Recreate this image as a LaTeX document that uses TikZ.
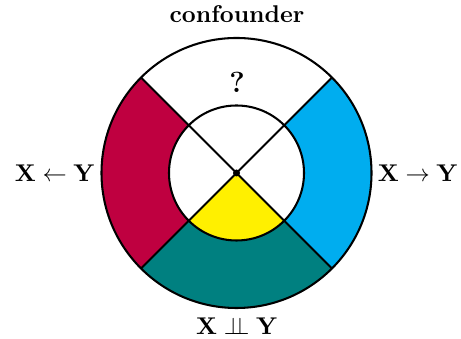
\documentclass[tikz,border=0pt]{standalone}
\usepackage{amsmath}
\definecolor{cpurple}{HTML}{BF0040}
\definecolor{ccyan}{HTML}{00ADEF}
\definecolor{cteal}{HTML}{008080}
\definecolor{cyellow}{HTML}{FFF000}
\begin{document}
\begin{tikzpicture}[x=0.413pt,y=0.413pt,
  ring/.style={line width=0.85pt},
  lbl/.style={inner sep=0pt,font=\bfseries}]
\useasboundingbox (0,0) rectangle (461,339);
\def\ro{135}
\def\ri{67.5}
\coordinate (c) at (236.5,166);
% sectors
\begin{scope}[shift={(c)}]
\fill[white] (45:\ro) arc (45:135:\ro) -- (135:\ri) arc (135:45:\ri) -- cycle;
\fill[cpurple] (135:\ro) arc (135:225:\ro) -- (225:\ri) arc (225:135:\ri) -- cycle;
\fill[cteal] (225:\ro) arc (225:315:\ro) -- (315:\ri) arc (315:225:\ri) -- cycle;
\fill[ccyan] (-45:\ro) arc (-45:45:\ro) -- (45:\ri) arc (45:-45:\ri) -- cycle;
\fill[cyellow] (0,0) -- (225:\ri) arc (225:315:\ri) -- cycle;
\draw[ring] (0,0) circle (\ro);
\draw[ring] (0,0) circle (\ri);
\draw[ring] (45:\ro) -- (225:\ro);
\draw[ring] (135:\ro) -- (315:\ro);
\fill (0,0) circle (3.5);
\end{scope}
\node[lbl] (conf) at (237,325) {confounder};
\node[lbl,font=\large\bfseries] (q) at (237,257) {?};
\node[lbl] (left) at (55,166) {$\mathbf{X \leftarrow Y}$};
\node[lbl] (right) at (418,166) {$\mathbf{X \rightarrow Y}$};
\node[lbl] (bot) at (237,13) {$\mathbf{X \perp\!\!\!\perp Y}$};
\end{tikzpicture}
\end{document}
